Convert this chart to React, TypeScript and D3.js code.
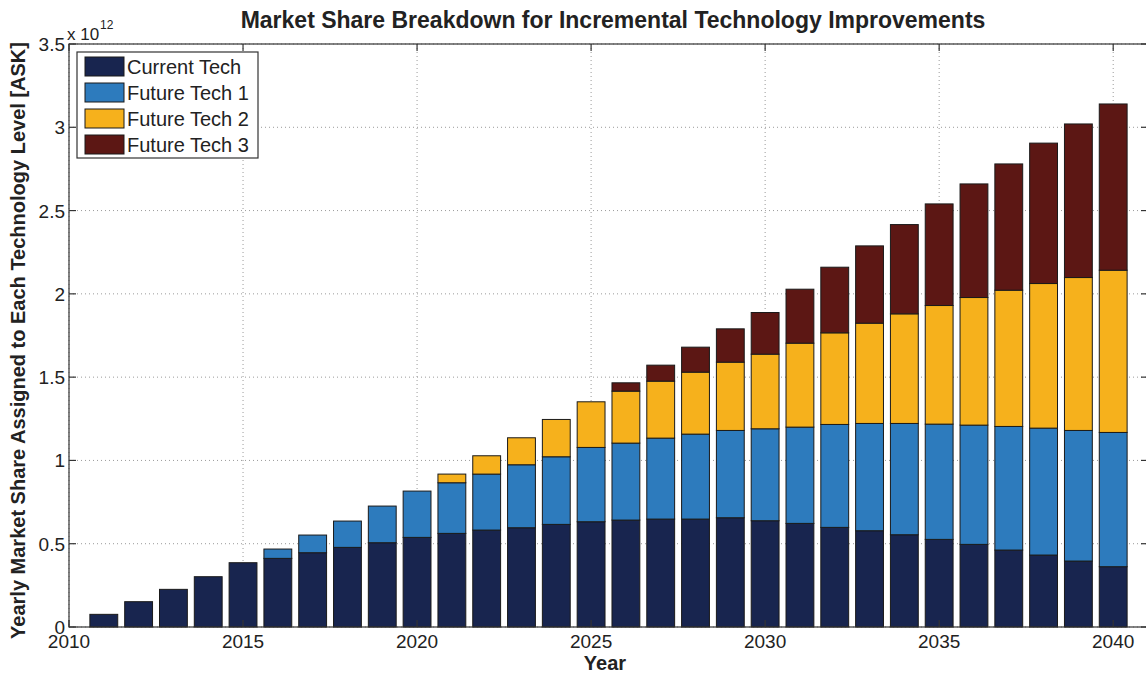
import React from "react";
import * as d3 from "d3";

const years: number[] = d3.range(2011, 2041);
const currentTech: number[] = [
  0.076, 0.152, 0.226, 0.302, 0.386, 0.412, 0.446, 0.478, 0.506, 0.538,
  0.562, 0.582, 0.596, 0.616, 0.632, 0.642, 0.648, 0.648, 0.656, 0.638,
  0.622, 0.598, 0.578, 0.554, 0.526, 0.496, 0.462, 0.432, 0.396, 0.362,
];
const futureTech1: number[] = [
  0, 0, 0, 0, 0, 0.056, 0.106, 0.158, 0.22, 0.278,
  0.304, 0.336, 0.378, 0.406, 0.446, 0.462, 0.486, 0.51, 0.524, 0.552,
  0.578, 0.618, 0.644, 0.668, 0.692, 0.716, 0.742, 0.762, 0.784, 0.806,
];
const futureTech2: number[] = [
  0, 0, 0, 0, 0, 0, 0, 0, 0, 0,
  0.052, 0.11, 0.162, 0.224, 0.274, 0.312, 0.342, 0.372, 0.41, 0.448,
  0.504, 0.55, 0.602, 0.658, 0.712, 0.766, 0.818, 0.868, 0.918, 0.974,
];
const futureTech3: number[] = [
  0, 0, 0, 0, 0, 0, 0, 0, 0, 0,
  0, 0, 0, 0, 0, 0.05, 0.096, 0.15, 0.2, 0.25,
  0.324, 0.394, 0.464, 0.536, 0.61, 0.682, 0.758, 0.843, 0.922, 0.998,
];
const seriesNames: string[] = ["Current Tech", "Future Tech 1", "Future Tech 2", "Future Tech 3"];
const seriesColors: string[] = ["#18254f", "#2d7bbd", "#f6b11c", "#5c1714"];
const xTicks: number[] = [2010, 2015, 2020, 2025, 2030, 2035, 2040];
const yTicks: number[] = [0, 0.5, 1, 1.5, 2, 2.5, 3, 3.5];

const W = 1146;
const H = 675;
const L = 69, R = 1148, T = 44, B = 627;
const FONT = "'Liberation Sans', Arial, Helvetica, sans-serif";

export default function App() {
  const x = d3.scaleLinear().domain([2010, 2041]).range([L, R]);
  const y = d3.scaleLinear().domain([0, 3.5]).range([B, T]);
  const bw = 0.8 * (x(1) - x(0));
  const series = [currentTech, futureTech1, futureTech2, futureTech3];
  const table = years.map((yr, i) => {
    const row: any = { year: yr };
    seriesNames.forEach((n, k) => (row[n] = series[k][i]));
    return row;
  });
  const stacked = d3.stack().keys(seriesNames)(table);
  const fmtY = (v: number) => (v === 0 ? "0" : String(v));
  const tickLen = 7;

  return (
    <div style={{ position: "fixed", left: 0, top: 0 }}>
      <svg width={W} height={H} style={{ display: "block", background: "#fff" }}>
        {/* grid */}
        <g stroke="#9a9a9a" strokeWidth={1} strokeDasharray="1,3">
          {xTicks.map((t) => (
            <line key={"gx" + t} x1={x(t)} x2={x(t)} y1={T} y2={B} />
          ))}
          {yTicks.map((t) => (
            <line key={"gy" + t} x1={L} x2={R} y1={y(t)} y2={y(t)} />
          ))}
        </g>
        {/* bars */}
        {stacked.map((s, k) => (
          <g key={s.key} fill={seriesColors[k]} stroke="#1a1a1a" strokeWidth={1}>
            {s.map((d: any, i: number) =>
              d[1] - d[0] > 0 ? (
                <rect
                  key={i}
                  x={x(years[i]) - bw / 2}
                  y={y(d[1])}
                  width={bw}
                  height={y(d[0]) - y(d[1])}
                />
              ) : null
            )}
          </g>
        ))}
        {/* frame */}
        <rect x={L} y={T} width={R - L} height={B - T} fill="none" stroke="#333" strokeWidth={1.2} />
        {/* ticks */}
        <g stroke="#333" strokeWidth={1.2}>
          {xTicks.map((t) => (
            <g key={"tx" + t}>
              <line x1={x(t)} x2={x(t)} y1={B} y2={B - tickLen} />
              <line x1={x(t)} x2={x(t)} y1={T} y2={T + tickLen} />
            </g>
          ))}
          {yTicks.map((t) => (
            <g key={"ty" + t}>
              <line x1={L} x2={L + tickLen} y1={y(t)} y2={y(t)} />
              <line x1={R} x2={R - tickLen} y1={y(t)} y2={y(t)} />
            </g>
          ))}
        </g>
        {/* tick labels */}
        <g fontFamily={FONT} fontSize={19} fill="#222">
          {xTicks.map((t) => (
            <text key={"lx" + t} x={x(t)} y={B + 21} textAnchor="middle">
              {t}
            </text>
          ))}
          {yTicks.map((t) => (
            <text key={"ly" + t} x={L - 4} y={y(t) + 7} textAnchor="end">
              {fmtY(t)}
            </text>
          ))}
          <text x={67} y={40} fontSize={17}>
            x 10
          </text>
          <text x={100} y={29} fontSize={12}>
            12
          </text>
        </g>
        {/* title & axis labels */}
        <text
          x={613}
          y={28}
          textAnchor="middle"
          fontFamily={FONT}
          fontWeight="bold"
          fontSize={23}
          fill="#222"
        >
          Market Share Breakdown for Incremental Technology Improvements
        </text>
        <text
          x={605}
          y={670}
          textAnchor="middle"
          fontFamily={FONT}
          fontWeight="bold"
          fontSize={20}
          fill="#222"
        >
          Year
        </text>
        <text
          transform={`translate(25, ${(T + B) / 2 + 5}) rotate(-90)`}
          textAnchor="middle"
          fontFamily={FONT}
          fontWeight="bold"
          fontSize={20}
          fill="#222"
        >
          Yearly Market Share Assigned to Each Technology Level [ASK]
        </text>
        {/* legend */}
        <g>
          <rect x={77} y={52} width={181} height={106} fill="#fff" stroke="#333" strokeWidth={1.2} />
          {seriesNames.map((n, k) => (
            <g key={"lg" + n}>
              <rect
                x={85}
                y={57 + k * 26}
                width={39}
                height={19}
                fill={seriesColors[k]}
                stroke="#1a1a1a"
                strokeWidth={1}
              />
              <text x={127} y={74 + k * 26} fontFamily={FONT} fontSize={20} fill="#222">
                {n}
              </text>
            </g>
          ))}
        </g>
      </svg>
    </div>
  );
}
